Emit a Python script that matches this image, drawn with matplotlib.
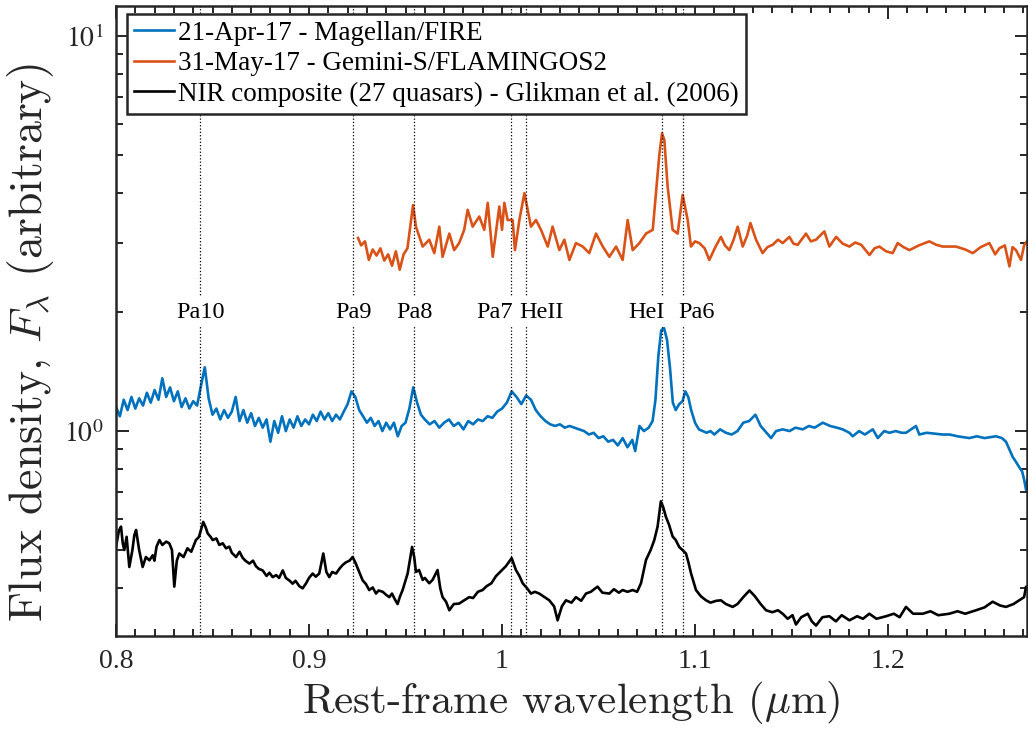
import numpy as np
import matplotlib
matplotlib.use('Agg')
import matplotlib.pyplot as plt
from matplotlib.ticker import FixedLocator, FuncFormatter, LogLocator, NullFormatter

# Magellan/FIRE spectrum (21-Apr-17)
fire_wl = [0.800, 0.802, 0.804, 0.806, 0.808, 0.810, 0.812, 0.814, 0.816, 0.818, 0.820, 0.822,
           0.824, 0.826, 0.828, 0.830, 0.832, 0.834, 0.836, 0.838, 0.840, 0.842, 0.844, 0.846,
           0.848, 0.850, 0.852, 0.854, 0.856, 0.858, 0.860, 0.862, 0.864, 0.866, 0.868, 0.870,
           0.872, 0.874, 0.876, 0.878, 0.880, 0.882, 0.884, 0.886, 0.888, 0.890, 0.892, 0.894,
           0.896, 0.898, 0.900, 0.902, 0.904, 0.906, 0.908, 0.910, 0.912, 0.914, 0.916, 0.918,
           0.920, 0.922, 0.924, 0.926, 0.928, 0.930, 0.932, 0.934, 0.936, 0.938, 0.940, 0.942,
           0.944, 0.946, 0.948, 0.950, 0.952, 0.954, 0.956, 0.958, 0.960,
           0.9625, 0.965, 0.9675, 0.970, 0.9725, 0.975, 0.9775, 0.980, 0.9825, 0.985, 0.9875,
           0.990, 0.9925, 0.995, 0.9975, 1.000, 1.0025, 1.005, 1.0075, 1.010, 1.0125, 1.015,
           1.0175, 1.020, 1.0225, 1.025, 1.0275, 1.030, 1.0325, 1.035, 1.0375, 1.040, 1.0425,
           1.045, 1.0475, 1.050, 1.0525, 1.055, 1.0575, 1.060, 1.0625, 1.065, 1.0675, 1.069,
           1.0712, 1.0735, 1.076, 1.078, 1.0795, 1.081, 1.0825, 1.084, 1.0855, 1.087, 1.0885,
           1.090, 1.0918, 1.0935, 1.0950, 1.0965, 1.098, 1.100, 1.102, 1.104, 1.106, 1.108,
           1.110, 1.113, 1.116, 1.119, 1.122, 1.125, 1.128, 1.1313, 1.134, 1.137, 1.1394,
           1.142, 1.1454, 1.149, 1.152, 1.1558, 1.159, 1.162, 1.1662, 1.170, 1.1735, 1.1765,
           1.180, 1.1817, 1.185, 1.188, 1.1921, 1.1947, 1.198, 1.2007, 1.204, 1.207, 1.2093,
           1.2145, 1.2162, 1.220, 1.2283, 1.232, 1.236, 1.2421, 1.246, 1.250, 1.2559, 1.259,
           1.2611, 1.2646, 1.266, 1.268, 1.2695, 1.2706, 1.2715, 1.2725]
fire_flux = [1.15, 1.09, 1.20, 1.13, 1.22, 1.14, 1.21, 1.16, 1.25, 1.18, 1.27, 1.20,
             1.36, 1.22, 1.29, 1.19, 1.26, 1.15, 1.21, 1.14, 1.19, 1.16, 1.30, 1.45,
             1.21, 1.10, 1.14, 1.07, 1.13, 1.08, 1.12, 1.22, 1.06, 1.13, 1.05, 1.11,
             1.03, 1.08, 1.02, 1.07, 0.94, 1.06, 0.99, 1.09, 1.00, 1.07, 1.02, 1.09,
             1.03, 1.07, 1.04, 1.10, 1.06, 1.12, 1.07, 1.11, 1.06, 1.10, 1.07, 1.12,
             1.17, 1.26, 1.22, 1.13, 1.09, 1.05, 1.08, 1.03, 1.06, 1.00, 1.05, 1.01,
             1.05, 0.97, 1.03, 1.05, 1.14, 1.29, 1.18, 1.10, 1.07,
             1.04, 1.06, 1.02, 1.05, 1.07, 1.03, 1.05, 1.01, 1.06, 1.04, 1.07,
             1.06, 1.09, 1.08, 1.12, 1.14, 1.18, 1.26, 1.22, 1.17, 1.23, 1.20,
             1.13, 1.09, 1.06, 1.04, 1.03, 1.04, 1.02, 1.03, 1.02, 1.01, 1.00,
             0.98, 0.99, 0.96, 0.97, 0.94, 0.95, 0.92, 0.96, 0.91, 0.95, 0.89,
             1.03, 1.00, 1.02, 1.06, 1.20, 1.55, 1.80, 1.82, 1.70, 1.45, 1.18,
             1.13, 1.17, 1.19, 1.26, 1.22, 1.13, 1.05, 1.01, 1.00, 0.99, 1.00,
             0.98, 1.01, 0.99, 0.98, 1.00, 1.05, 1.06, 1.10, 1.03, 0.99, 0.96,
             1.00, 1.01, 1.00, 1.02, 1.01, 1.03, 1.02, 1.05, 1.03, 1.02, 1.01,
             0.99, 0.97, 1.00, 0.98, 1.01, 0.96, 1.00, 0.99, 1.00, 0.99, 0.99,
             1.03, 0.98, 0.99, 0.98, 0.98, 0.97, 0.96, 0.97, 0.96, 0.97, 0.96,
             0.94, 0.86, 0.84, 0.81, 0.79, 0.75, 0.71, 0.76]

# Gemini-S/FLAMINGOS2 spectrum (31-May-17)
f2_wl = [0.9254, 0.927, 0.929, 0.931, 0.933, 0.935, 0.937, 0.939, 0.941, 0.943, 0.945, 0.947,
         0.949, 0.951, 0.9539, 0.9554, 0.9589, 0.9623, 0.9649, 0.9675, 0.9692, 0.9727, 0.9752,
         0.9778, 0.9804, 0.9822, 0.9848, 0.9882, 0.9908, 0.9926, 0.9952, 0.9986, 1.0000, 1.0012,
         1.0029, 1.0055, 1.0067, 1.0090, 1.0116, 1.0150, 1.0176, 1.0202, 1.0237, 1.0262, 1.0297,
         1.0323, 1.0349, 1.0383, 1.0418, 1.0452, 1.0487, 1.0522, 1.0556, 1.0591, 1.0625, 1.0651,
         1.0677, 1.0712, 1.0746, 1.0781, 1.0801, 1.0815, 1.0829, 1.0841, 1.0858, 1.0884, 1.0910,
         1.0936, 1.0962, 1.0979, 1.1000, 1.1022, 1.1050, 1.1074, 1.1105, 1.1134, 1.1155, 1.1178,
         1.1200, 1.1221, 1.1247, 1.1270, 1.1287, 1.1316, 1.1350, 1.1375, 1.1402, 1.1430, 1.1454,
         1.1489, 1.1510, 1.1532, 1.1575, 1.1600, 1.1627, 1.1670, 1.1696, 1.1731, 1.1765, 1.1800,
         1.1830, 1.1861, 1.1904, 1.1930, 1.1955, 1.1990, 1.2024, 1.2050, 1.2080, 1.2111, 1.2160,
         1.2214, 1.2250, 1.2283, 1.2352, 1.2400, 1.2439, 1.2480, 1.2525, 1.2555, 1.2577, 1.2605,
         1.2629, 1.2645, 1.2663, 1.2689, 1.2705, 1.2725]
f2_flux = [3.08, 2.95, 3.02, 2.71, 2.88, 2.78, 2.90, 2.70, 2.80, 2.62, 2.85, 2.56,
           2.80, 2.90, 3.73, 3.29, 2.93, 3.05, 2.82, 3.29, 2.76, 3.16, 2.87,
           2.99, 3.23, 3.63, 3.29, 3.49, 3.23, 3.78, 2.76, 3.70, 3.23, 3.78,
           3.42, 3.42, 2.87, 3.42, 4.00, 3.29, 3.42, 3.23, 2.93, 3.29, 2.87,
           3.05, 2.71, 2.99, 2.93, 2.82, 3.16, 2.93, 2.76, 2.93, 2.71, 3.42,
           2.87, 2.99, 3.16, 3.23, 4.16, 5.00, 5.67, 5.45, 4.16, 3.23, 3.16,
           3.96, 3.42, 2.93, 3.02, 2.99, 2.90, 2.71, 2.92, 3.10, 2.95, 2.87,
           3.05, 3.29, 2.93, 3.12, 3.36, 3.05, 2.82, 2.92, 2.96, 3.05, 2.99,
           3.10, 2.98, 2.96, 3.16, 3.02, 3.05, 3.20, 2.93, 3.10, 2.98, 2.93,
           3.00, 2.96, 2.79, 2.90, 2.93, 2.85, 2.82, 2.99, 2.92, 2.87, 2.95,
           3.02, 2.96, 2.93, 2.93, 2.88, 2.82, 2.92, 2.99, 2.80, 2.90, 2.95,
           2.61, 2.92, 2.87, 2.71, 2.95, 3.05]

# Glikman et al. (2006) NIR composite
comp_wl = [0.800, 0.8015, 0.8026, 0.8035, 0.8043, 0.8055, 0.8069, 0.8085, 0.8095, 0.8104, 0.812,
           0.8138, 0.8155, 0.8173, 0.819, 0.8199, 0.821, 0.8225, 0.824, 0.826, 0.8276, 0.829,
           0.8302, 0.8315, 0.8328, 0.835, 0.837, 0.839, 0.8414, 0.843, 0.8452, 0.8465, 0.8475,
           0.849, 0.8501, 0.852, 0.8535, 0.8553, 0.857, 0.8587, 0.860, 0.8622, 0.864, 0.8656,
           0.867, 0.8691, 0.871, 0.8725, 0.874, 0.876, 0.878, 0.8795, 0.8812, 0.883, 0.8845,
           0.8864, 0.888, 0.890, 0.8915, 0.893, 0.895, 0.8967, 0.8985, 0.900, 0.9019, 0.9035,
           0.9053, 0.9074, 0.909, 0.9105, 0.912, 0.914, 0.916, 0.9174, 0.919, 0.921, 0.9226,
           0.924, 0.926, 0.9278, 0.9295, 0.9312, 0.933, 0.9347, 0.936, 0.9382, 0.940, 0.9416,
           0.943, 0.9445, 0.9459, 0.947, 0.9485, 0.9511, 0.9534, 0.9545, 0.9554, 0.957, 0.9589,
           0.960, 0.9623, 0.964, 0.9666, 0.968, 0.9692, 0.971, 0.9727, 0.975, 0.9778, 0.980,
           0.983, 0.985, 0.9875, 0.9899, 0.992, 0.9945, 0.9968, 0.999, 1.002, 1.005, 1.0072,
           1.009, 1.0107, 1.013, 1.015, 1.017, 1.0193, 1.022, 1.0245, 1.027, 1.0288, 1.031,
           1.0331, 1.036, 1.0383, 1.041, 1.0435, 1.046, 1.0495, 1.052, 1.0556, 1.058, 1.0605,
           1.0625, 1.065, 1.0677, 1.070, 1.072, 1.0746, 1.077, 1.0789, 1.0806, 1.0823, 1.0836,
           1.0849, 1.0865, 1.0884, 1.090, 1.0918, 1.0935, 1.0953, 1.0966, 1.0979, 1.1005, 1.103,
           1.1057, 1.108, 1.111, 1.1134, 1.116, 1.1195, 1.122, 1.125, 1.1282, 1.131, 1.134,
           1.1368, 1.140, 1.143, 1.1454, 1.148, 1.1505, 1.1523, 1.155, 1.1584, 1.1605, 1.1627,
           1.166, 1.1696, 1.173, 1.176, 1.180, 1.184, 1.187, 1.1903, 1.194, 1.199, 1.203, 1.206,
           1.2093, 1.213, 1.218, 1.222, 1.226, 1.2318, 1.236, 1.240, 1.2456, 1.250, 1.2542,
           1.258, 1.2611, 1.265, 1.268, 1.2705, 1.2715, 1.2725]
comp_flux = [0.509, 0.560, 0.573, 0.520, 0.500, 0.540, 0.453, 0.500, 0.545, 0.562, 0.500,
             0.453, 0.480, 0.471, 0.485, 0.470, 0.510, 0.530, 0.515, 0.525, 0.520, 0.500,
             0.404, 0.470, 0.490, 0.480, 0.505, 0.495, 0.530, 0.540, 0.589, 0.570, 0.551,
             0.540, 0.530, 0.535, 0.515, 0.520, 0.505, 0.510, 0.492, 0.480, 0.495, 0.478,
             0.470, 0.462, 0.470, 0.455, 0.448, 0.444, 0.430, 0.438, 0.427, 0.432, 0.425,
             0.444, 0.425, 0.418, 0.411, 0.418, 0.405, 0.400, 0.412, 0.425, 0.436, 0.428,
             0.436, 0.490, 0.440, 0.427, 0.440, 0.436, 0.450, 0.458, 0.465, 0.470, 0.480,
             0.465, 0.440, 0.419, 0.410, 0.396, 0.402, 0.388, 0.395, 0.392, 0.385, 0.380,
             0.388, 0.375, 0.365, 0.380, 0.396, 0.436, 0.509, 0.480, 0.440, 0.445, 0.420,
             0.425, 0.412, 0.420, 0.445, 0.400, 0.380, 0.370, 0.352, 0.365, 0.366, 0.372,
             0.380, 0.378, 0.392, 0.396, 0.405, 0.412, 0.429, 0.440, 0.455, 0.477, 0.445,
             0.430, 0.412, 0.400, 0.388, 0.392, 0.388, 0.380, 0.373, 0.360, 0.332, 0.360,
             0.373, 0.368, 0.380, 0.372, 0.388, 0.392, 0.404, 0.390, 0.388, 0.398, 0.390,
             0.396, 0.392, 0.396, 0.392, 0.412, 0.472, 0.500, 0.530, 0.573, 0.664, 0.640,
             0.607, 0.580, 0.541, 0.530, 0.509, 0.500, 0.490, 0.465, 0.437, 0.396, 0.382,
             0.373, 0.368, 0.372, 0.373, 0.365, 0.359, 0.365, 0.380, 0.395, 0.382, 0.365,
             0.352, 0.348, 0.352, 0.345, 0.335, 0.342, 0.324, 0.338, 0.345, 0.330, 0.322,
             0.338, 0.340, 0.330, 0.342, 0.332, 0.340, 0.335, 0.345, 0.335, 0.340, 0.345, 0.338,
             0.359, 0.345, 0.345, 0.350, 0.342, 0.345, 0.350, 0.345, 0.352, 0.358, 0.370,
             0.362, 0.359, 0.365, 0.373, 0.380, 0.404, 0.395]

# emission lines
line_names = ['Pa10', 'Pa9', 'Pa8', 'Pa7', 'HeII', 'HeI', 'Pa6']
line_wl = [0.8437, 0.9229, 0.9546, 1.0049, 1.0124, 1.0830, 1.0938]
label_wl = [0.8437, 0.9229, 0.9546, 0.9960, 1.0202, 1.0749, 1.1009]

ink = '#262626'
plt.rcParams['font.family'] = ['Liberation Serif', 'DejaVu Serif']
plt.rcParams['mathtext.fontset'] = 'stix'

fig = plt.figure(figsize=(10.28, 7.31), dpi=100)
ax = fig.add_axes([116/1028, 95/731, 911/1028, 630/731])

ax.plot(fire_wl, fire_flux, color='#0072BD', lw=1.9, label='21-Apr-17 - Magellan/FIRE', zorder=2)
ax.plot(f2_wl, f2_flux, color='#D95319', lw=1.9, label='31-May-17 - Gemini-S/FLAMINGOS2', zorder=2)
ax.plot(comp_wl, comp_flux, color='k', lw=1.9,
        label='NIR composite (27 quasars) - Glikman et al. (2006)', zorder=2)

ax.set_yscale('log')
ax.set_xlim(0.8, 1.272)
ax.set_ylim(0.303, 11.9)

for wl in line_wl:
    ax.axvline(wl, color='k', ls=':', lw=0.9, zorder=3)
for name, wl in zip(line_names, label_wl):
    ax.text(wl, 2.0, name, ha='center', va='center', fontsize=17.5, color='k', zorder=4,
            bbox=dict(facecolor='white', edgecolor='none', pad=3))

ax.xaxis.set_major_locator(FixedLocator([0.8, 0.9, 1.0, 1.1, 1.2]))
ax.xaxis.set_minor_locator(FixedLocator(np.arange(0.80, 1.275, 0.01)))
ax.xaxis.set_major_formatter(FuncFormatter(lambda v, p: '%g' % v))
ax.yaxis.set_major_locator(FixedLocator([1, 10]))
ax.yaxis.set_major_formatter(FuncFormatter(lambda v, p: r'$10^{%d}$' % round(np.log10(v))))
ax.yaxis.set_minor_locator(LogLocator(base=10, subs=np.arange(2, 10)))
ax.yaxis.set_minor_formatter(NullFormatter())

ax.tick_params(which='both', direction='in', top=True, right=True, colors=ink, width=1.4)
ax.tick_params(which='major', length=9, labelsize=20, pad=9)
ax.tick_params(which='minor', length=5)
for s in ax.spines.values():
    s.set_linewidth(1.8)
    s.set_color(ink)

ax.set_xlabel(r'Rest-frame wavelength ($\mu$m)', fontsize=31, color=ink,
              fontfamily='cmr10', math_fontfamily='cm', labelpad=4)
ax.set_ylabel(r'Flux density, $F_\lambda$ (arbitrary)', fontsize=33, color=ink,
              fontfamily='cmr10', math_fontfamily='cm')
ax.yaxis.set_label_coords(-0.066, 0.465)

leg = ax.legend(loc='upper left', bbox_to_anchor=(0.012, 0.987), fontsize=19.5, fancybox=False,
                framealpha=1, edgecolor=ink, handlelength=1.5, handletextpad=0.15,
                labelspacing=0.2, borderpad=0.25, borderaxespad=0)
leg.get_frame().set_linewidth(1.8)
leg.set_zorder(5)

fig.savefig('out.png', dpi=100)
